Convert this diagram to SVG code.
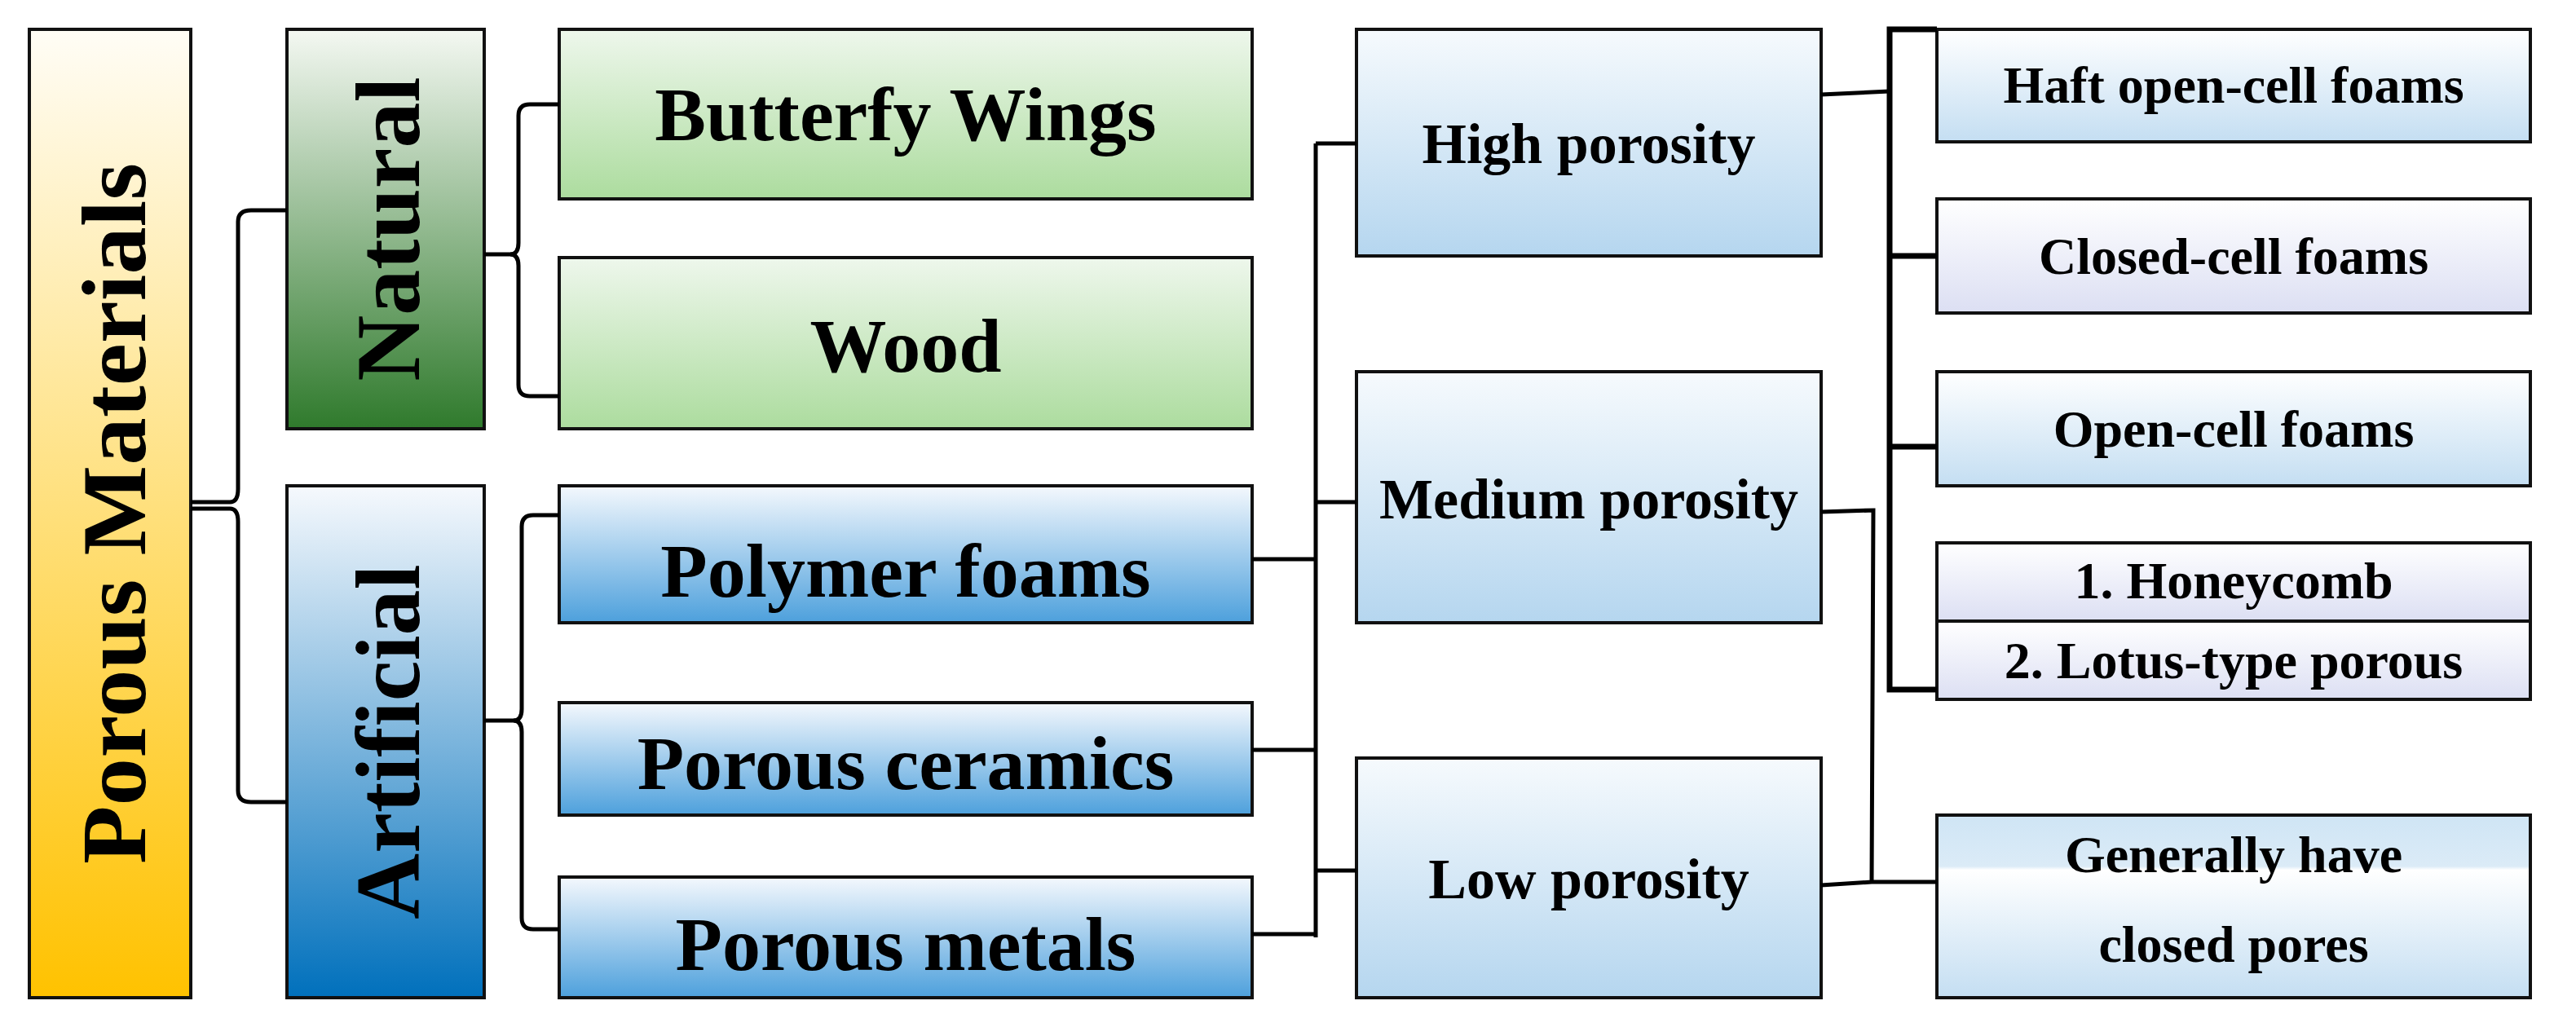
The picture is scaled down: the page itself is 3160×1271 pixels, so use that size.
<svg xmlns="http://www.w3.org/2000/svg" width="3160" height="1271" viewBox="0 0 3160 1271">
<defs>
<linearGradient id="gPM" x1="0" y1="0" x2="0" y2="1"><stop offset="0" stop-color="#fffdf6"/><stop offset="1" stop-color="#ffc200"/></linearGradient>
<linearGradient id="gNat" x1="0" y1="0" x2="0" y2="1"><stop offset="0" stop-color="#f4f8f2"/><stop offset="1" stop-color="#2f7a2c"/></linearGradient>
<linearGradient id="gArt" x1="0" y1="0" x2="0" y2="1"><stop offset="0" stop-color="#f6f9fd"/><stop offset="1" stop-color="#0070bc"/></linearGradient>
<linearGradient id="gGreen" x1="0" y1="0" x2="0" y2="1"><stop offset="0" stop-color="#eef7ec"/><stop offset="1" stop-color="#acdc9e"/></linearGradient>
<linearGradient id="gBlue" x1="0" y1="0" x2="0" y2="1"><stop offset="0" stop-color="#f4f8fd"/><stop offset="1" stop-color="#4da0dc"/></linearGradient>
<linearGradient id="gPor" x1="0" y1="0" x2="0" y2="1"><stop offset="0" stop-color="#f6fafd"/><stop offset="1" stop-color="#b5d6ef"/></linearGradient>
<linearGradient id="gRight" x1="0" y1="0" x2="0" y2="1"><stop offset="0" stop-color="#ffffff"/><stop offset="1" stop-color="#c4def2"/></linearGradient>
<linearGradient id="gLav" x1="0" y1="0" x2="0" y2="1"><stop offset="0" stop-color="#ffffff"/><stop offset="1" stop-color="#dcdff3"/></linearGradient>
<linearGradient id="gGen" x1="0" y1="0" x2="0" y2="1"><stop offset="0" stop-color="#cfe5f5"/><stop offset="0.28" stop-color="#dbebf7"/><stop offset="0.3" stop-color="#ffffff"/><stop offset="1" stop-color="#c4def2"/></linearGradient>
</defs>
<style>
rect{stroke:#111;stroke-width:4}
text{font-family:"Liberation Serif","Times New Roman",serif;font-weight:bold;fill:#000;text-anchor:middle;dominant-baseline:central}
.c{fill:none;stroke:#000;stroke-width:5}
.big{font-size:112px}
.mid{font-size:94px}
.sm{font-size:70px}
.xs{font-size:64px}
</style>
<rect width="3160" height="1271" fill="#fff" style="stroke:none"/>
<g id="porous-materials"><rect x="36" y="36" width="198" height="1188" fill="url(#gPM)"/><text class="big" transform="translate(140,630) rotate(-90)" textLength="860" lengthAdjust="spacingAndGlyphs">Porous Materials</text></g>
<g id="natural"><rect x="352" y="36" width="242" height="490" fill="url(#gNat)"/><text class="big" transform="translate(476,281) rotate(-90)">Natural</text></g>
<g id="artificial"><rect x="352" y="596" width="242" height="628" fill="url(#gArt)"/><text class="big" transform="translate(476,910) rotate(-90)">Artificial</text></g>
<g id="butterfly"><rect x="686" y="36" width="850" height="208" fill="url(#gGreen)"/><text class="mid" x="1111" y="140">Butterfy Wings</text></g>
<g id="wood"><rect x="686" y="316" width="850" height="210" fill="url(#gGreen)"/><text class="mid" x="1111" y="424">Wood</text></g>
<g id="polymer"><rect x="686" y="596" width="850" height="168" fill="url(#gBlue)"/><text class="mid" x="1111" y="700">Polymer foams</text></g>
<g id="ceramics"><rect x="686" y="862" width="850" height="138" fill="url(#gBlue)"/><text class="mid" x="1111" y="936">Porous ceramics</text></g>
<g id="metals"><rect x="686" y="1076" width="850" height="148" fill="url(#gBlue)"/><text class="mid" x="1111" y="1158">Porous metals</text></g>
<g id="high"><rect x="1664" y="36" width="570" height="278" fill="url(#gPor)"/><text class="sm" x="1949" y="176">High porosity</text></g>
<g id="medium"><rect x="1664" y="456" width="570" height="308" fill="url(#gPor)"/><text class="sm" x="1949" y="612">Medium porosity</text></g>
<g id="low"><rect x="1664" y="930" width="570" height="294" fill="url(#gPor)"/><text class="sm" x="1949" y="1078">Low porosity</text></g>
<g id="haft"><rect x="2376" y="36" width="728" height="138" fill="url(#gRight)"/><text class="xs" x="2740" y="104">Haft open-cell foams</text></g>
<g id="closed"><rect x="2376" y="244" width="728" height="140" fill="url(#gLav)"/><text class="xs" x="2740" y="314">Closed-cell foams</text></g>
<g id="open"><rect x="2376" y="456" width="728" height="140" fill="url(#gRight)"/><text class="xs" x="2740" y="526">Open-cell foams</text></g>
<g id="honeycomb"><rect x="2376" y="666" width="728" height="96" fill="url(#gLav)"/><text class="xs" x="2740" y="712">1. Honeycomb</text></g>
<g id="lotus"><rect x="2376" y="762" width="728" height="96" fill="url(#gLav)"/><text class="xs" x="2740" y="810">2. Lotus-type porous</text></g>
<g id="generally"><rect x="2376" y="1000" width="728" height="224" fill="url(#gGen)"/><text class="xs" x="2740" y="1048">Generally have</text><text class="xs" x="2740" y="1158">closed pores</text></g>
<g id="connectors">
<path class="c" d="M234 616 H282 Q292 616 292 600 V272 Q292 258 308 258 H352"/>
<path class="c" d="M234 624 H282 Q292 624 292 640 V970 Q292 984 308 984 H352"/>
<path class="c" d="M594 312 H626 Q636 312 636 298 V142 Q636 128 650 128 H686"/>
<path class="c" d="M626 312 Q636 312 636 326 V472 Q636 486 650 486 H686"/>
<path class="c" d="M594 884 H630 Q640 884 640 870 V646 Q640 632 654 632 H686"/>
<path class="c" d="M630 884 Q640 884 640 898 V1126 Q640 1140 654 1140 H686"/>
<path class="c" d="M1614 176 V1150"/>
<path class="c" d="M1614 176 H1664 M1614 616 H1664 M1614 1068 H1664"/>
<path class="c" d="M1536 686 H1614 M1536 920 H1614 M1536 1146 H1614"/>
<path class="c" d="M2234 116 L2318 112"/>
<path class="c" style="stroke-width:7" d="M2376 36 H2318 V846 H2376 M2318 314 H2376 M2318 548 H2376"/>
<path class="c" d="M2234 628 L2298 626 L2296 1082 M2234 1086 L2296 1082 H2376"/>
</g>
</svg>
